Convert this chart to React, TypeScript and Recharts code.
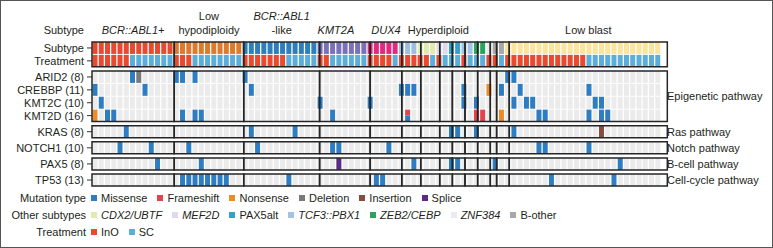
import React from "react";
import { BarChart, Bar, XAxis, YAxis, ReferenceArea } from "recharts";

// patient groups (columns) and their treatment arm (I = InO, S = SC)
const groupNames = [
  "BCR::ABL1+", "Low hypodiploidy", "BCR::ABL1-like", "KMT2A", "DUX4", "Hyperdiploid",
  "CDX2/UBTF", "MEF2D", "PAX5alt", "TCF3::PBX1", "ZEB2/CEBP", "ZNF384", "B-other", "Low blast",
];
const groupSizes = [13, 11, 12, 8, 5, 3, 3, 2, 2, 2, 2, 1, 2, 25];
const groupTreatment = [
  "IIIIIISSSSSSS", "IIISSSSSSSS", "IIIIIIISSSSS", "IISSSSSS", "IIIIS", "III",
  "IIS", "IS", "SS", "IS", "SS", "I", "IS", "IIIIIIIIIIIIISSSSSSSSSSSS",
];

const genes = ["ARID2", "CREBBP", "KMT2C", "KMT2D", "KRAS", "NOTCH1", "PAX5", "TP53"];
const geneCounts = [8, 11, 10, 16, 8, 10, 8, 13];

const arid2Hits: [number, string][] = [
  [6, "Missense"], [7, "Deletion"], [13, "Missense"], [14, "Missense"], [16, "Missense"],
  [24, "Missense"], [66, "Missense"], [67, "Missense"],
];
const crebbpHits: [number, string][] = [
  [0, "Missense"], [8, "Missense"], [25, "Missense"], [49, "Missense"], [50, "Missense"],
  [51, "Missense"], [59, "Missense"], [63, "Nonsense"], [65, "Missense"], [68, "Missense"], [79, "Missense"],
];
const kmt2cHits: [number, string][] = [
  [1, "Missense"], [36, "Missense"], [44, "Missense"], [59, "Missense"], [61, "Missense"],
  [67, "Missense"], [69, "Missense"], [70, "Missense"], [80, "Missense"], [81, "Missense"],
];
const kmt2dHits: [number, string][] = [
  [0, "Nonsense"], [2, "Missense"], [3, "Missense"], [14, "Missense"], [16, "Missense"], [17, "Missense"],
  [38, "Missense"], [50, "Frameshift+Missense"], [61, "Frameshift"], [62, "Frameshift"], [65, "Nonsense"],
  [71, "Missense"], [72, "Missense"], [79, "Missense"], [81, "Missense"], [82, "Missense"],
];
const krasHits: [number, string][] = [
  [5, "Missense"], [25, "Missense"], [32, "Missense"], [57, "Missense"], [58, "Missense"],
  [61, "Missense"], [67, "Missense"], [81, "Insertion"],
];
const notch1Hits: [number, string][] = [
  [4, "Missense"], [9, "Missense"], [15, "Missense"], [26, "Missense"], [38, "Missense"],
  [39, "Missense"], [47, "Missense"], [71, "Missense"], [72, "Missense"], [79, "Missense"],
];
const pax5Hits: [number, string][] = [
  [10, "Missense"], [17, "Missense"], [39, "Splice"], [51, "Missense"], [57, "Missense"],
  [58, "Missense"], [64, "Missense"], [84, "Missense"],
];
const tp53Hits: [number, string][] = [
  [14, "Missense"], [15, "Missense"], [16, "Missense"], [17, "Missense"], [18, "Missense"],
  [19, "Missense"], [20, "Missense"], [21, "Missense"], [31, "Missense"], [45, "Missense"],
  [46, "Missense"], [73, "Missense"], [83, "Missense"],
];
const geneHits = [arid2Hits, crebbpHits, kmt2cHits, kmt2dHits, krasHits, notch1Hits, pax5Hits, tp53Hits];

const pathways = ["Epigenetic pathway", "Ras pathway", "Notch pathway", "B-cell pathway", "Cell-cycle pathway"];
const mutationTypes = ["Missense", "Frameshift", "Nonsense", "Deletion", "Insertion", "Splice"];
const otherSubtypes = ["CDX2/UBTF", "MEF2D", "PAX5alt", "TCF3::PBX1", "ZEB2/CEBP", "ZNF384", "B-other"];
const treatments = ["InO", "SC"];

// colours
const subtypeColors: Record<string, string> = {
  "BCR::ABL1+": "#e8492f",
  "Low hypodiploidy": "#de7a2c",
  "BCR::ABL1-like": "#2c7fbc",
  KMT2A: "#7a72b6",
  DUX4: "#e2297f",
  Hyperdiploid: "#9fbde2",
  "CDX2/UBTF": "#e2eab0",
  MEF2D: "#dedaec",
  PAX5alt: "#36a0c8",
  "TCF3::PBX1": "#a4c2e3",
  "ZEB2/CEBP": "#2ca25a",
  ZNF384: "#eaeaf3",
  "B-other": "#a8a8a8",
  "Low blast": "#fde49b",
};
const mutationColors: Record<string, string> = {
  Missense: "#2e7dc2",
  Frameshift: "#e4434b",
  Nonsense: "#ef8a2a",
  Deletion: "#7a7a7a",
  Insertion: "#8a4a3e",
  Splice: "#5b2b82",
};
const treatmentColors: Record<string, string> = { InO: "#e8492f", SC: "#5badda" };
const italicSubtypes = ["CDX2/UBTF", "MEF2D", "TCF3::PBX1", "ZEB2/CEBP", "ZNF384"];
const EMPTY = "#ebebeb";
const TEXT = "#231f20";
const OUTLINE = "#262626";
const FONT = '"Liberation Sans", Arial, Helvetica, sans-serif';

// columns
const columns: { col: number; subtype: string; treatment: string }[] = [];
const groupStart: number[] = [];
groupNames.forEach((g, gi) => {
  groupStart.push(columns.length);
  for (let k = 0; k < groupSizes[gi]; k++) {
    columns.push({ col: columns.length, subtype: g, treatment: groupTreatment[gi][k] === "I" ? "InO" : "SC" });
  }
});
const N = columns.length;

const hitMap: Record<string, Record<number, string>> = {};
genes.forEach((g, i) => {
  hitMap[g] = {};
  geneHits[i].forEach(([c, t]) => (hitMap[g][c] = t));
});

// vertical layout of row bands (top to bottom)
const SMALL = 0.08;
const BIG = 0.35;
const bands: { key: string; h: number }[] = [
  { key: "Subtype", h: 1 }, { key: "gap0", h: SMALL }, { key: "Treatment", h: 1 }, { key: "gap1", h: BIG },
  { key: "ARID2", h: 1 }, { key: "gap2", h: SMALL }, { key: "CREBBP", h: 1 }, { key: "gap3", h: SMALL },
  { key: "KMT2C", h: 1 }, { key: "gap4", h: SMALL }, { key: "KMT2D", h: 1 }, { key: "gap5", h: BIG },
  { key: "KRAS", h: 1 }, { key: "gap6", h: BIG }, { key: "NOTCH1", h: 1 }, { key: "gap7", h: BIG },
  { key: "PAX5", h: 1 }, { key: "gap8", h: BIG }, { key: "TP53", h: 1 },
];
const TOTAL = bands.reduce((s, b) => s + b.h, 0);
const bandRange: Record<string, [number, number]> = {};
{
  let top = 0;
  bands.forEach((b) => {
    bandRange[b.key] = [TOTAL - top - b.h, TOTAL - top];
    top += b.h;
  });
}
const mid = (k: string) => (bandRange[k][0] + bandRange[k][1]) / 2;

const blocks = [["Subtype", "Treatment"], ["ARID2", "CREBBP", "KMT2C", "KMT2D"], ["KRAS"], ["NOTCH1"], ["PAX5"], ["TP53"]];

const leftLabels: [number, string][] = [
  [mid("Subtype"), "Subtype"],
  [mid("Treatment"), "Treatment"],
  ...genes.map((g, i) => [mid(g), `${g} (${geneCounts[i]})`] as [number, string]),
];
const rightLabels: [number, string][] = [
  [(bandRange["KMT2D"][0] + bandRange["ARID2"][1]) / 2, pathways[0]],
  [mid("KRAS"), pathways[1]],
  [mid("NOTCH1"), pathways[2]],
  [mid("PAX5"), pathways[3]],
  [mid("TP53"), pathways[4]],
];
const findLabel = (list: [number, string][], v: number) => {
  const f = list.find((l) => Math.abs(l[0] - v) < 1e-6);
  return f ? f[1] : "";
};

type Seg = { t: string; i?: boolean };
const headers: { group: number; lines: Seg[][]; anchor?: "start" | "middle"; dx?: number }[] = [
  { group: 0, lines: [[{ t: "BCR::ABL1+", i: true }]] },
  { group: 1, lines: [[{ t: "Low" }], [{ t: "hypodiploidy" }]] },
  { group: 2, lines: [[{ t: "BCR::ABL1", i: true }], [{ t: "-like" }]] },
  { group: 3, lines: [[{ t: "KMT2A", i: true }]], anchor: "start", dx: -2 },
  { group: 4, lines: [[{ t: "DUX4", i: true }]] },
  { group: 5, lines: [[{ t: "Hyperdiploid" }]], anchor: "start", dx: 6 },
  { group: 13, lines: [[{ t: "Low blast" }]] },
];
const headerPos = (h: (typeof headers)[number]) =>
  h.anchor === "start" ? groupStart[h.group] : groupStart[h.group] + groupSizes[h.group] / 2;
const headerTicks = headers.map(headerPos);

const data = columns.map((c) => {
  const row: Record<string, any> = { ...c };
  bands.forEach((b) => (row[b.key] = b.h));
  return row;
});

function HeaderTick(props: any) {
  const { x, y, payload } = props;
  const h = headers.find((hh) => Math.abs(headerPos(hh) - payload.value) < 1e-6);
  if (!h) return <g />;
  const L = h.lines.length;
  return (
    <g>
      {h.lines.map((line, j) => (
        <text
          key={j}
          x={x + (h.dx || 0)}
          y={y - 8 - (L - 1 - j) * 14}
          textAnchor={h.anchor === "start" ? "start" : "middle"}
          fontSize={11}
          fill={TEXT}
        >
          {line.map((s, k) => (
            <tspan key={k} fontStyle={s.i ? "italic" : "normal"}>
              {s.t}
            </tspan>
          ))}
        </text>
      ))}
    </g>
  );
}

// plain single-line tick text (no wrapping)
function RowTick(props: any) {
  const { x, y, payload, textAnchor, list } = props;
  return (
    <text x={x} y={y} dy="0.36em" textAnchor={textAnchor} fontSize={11} fill={TEXT}>
      {findLabel(list, payload.value)}
    </text>
  );
}

function renderCell(key: string, p: any) {
  const { x, y, width, height, payload } = p;
  if (key.startsWith("gap")) return <g />;
  if (key === "Subtype") return <rect x={x} y={y} width={width} height={height} fill={subtypeColors[payload.subtype]} />;
  if (key === "Treatment") return <rect x={x} y={y} width={width} height={height} fill={treatmentColors[payload.treatment]} />;
  const hit = hitMap[key][payload.col];
  if (!hit) return <rect x={x} y={y} width={width} height={height} fill={EMPTY} />;
  const parts = hit.split("+");
  if (parts.length === 1) return <rect x={x} y={y} width={width} height={height} fill={mutationColors[hit]} />;
  const hh = height / parts.length;
  return (
    <g>
      {parts.map((t, i) => (
        <rect key={i} x={x} y={y + i * hh} width={width} height={hh} fill={mutationColors[t]} />
      ))}
    </g>
  );
}

function axes(withLabels: boolean) {
  return [
    <XAxis key="xc" xAxisId="cat" dataKey="col" type="category" hide />,
    <XAxis
      key="xn"
      xAxisId="num"
      type="number"
      orientation="top"
      domain={[0, N]}
      allowDataOverflow
      height={42}
      ticks={headerTicks}
      interval={0}
      axisLine={false}
      tickLine={false}
      tickSize={0}
      tickMargin={0}
      tick={withLabels ? (p: any) => <HeaderTick {...p} /> : false}
    />,
    <YAxis
      key="yl"
      yAxisId="left"
      type="number"
      domain={[0, TOTAL]}
      allowDataOverflow
      width={92}
      ticks={leftLabels.map((l) => l[0])}
      interval={0}
      axisLine={false}
      tickLine={withLabels ? { stroke: "#333" } : false}
      tickSize={5}
      tickMargin={3}
      tick={withLabels ? (p: any) => <RowTick {...p} list={leftLabels} /> : false}
    />,
    <YAxis
      key="yr"
      yAxisId="right"
      orientation="right"
      type="number"
      domain={[0, TOTAL]}
      allowDataOverflow
      width={112}
      ticks={rightLabels.map((l) => l[0])}
      interval={0}
      axisLine={false}
      tickLine={false}
      tickSize={0}
      tickMargin={6}
      tick={withLabels ? (p: any) => <RowTick {...p} list={rightLabels} /> : false}
    />,
  ];
}

function Key({ color, label, italic }: { color: string; label: string; italic?: boolean }) {
  return (
    <span style={{ display: "inline-flex", alignItems: "center", marginRight: 10 }}>
      <span style={{ width: 6, height: 6, background: color, marginRight: 4, display: "inline-block" }} />
      <span style={{ fontStyle: italic ? "italic" : "normal" }}>{label}</span>
    </span>
  );
}

function LegendRow({ title, children }: { title: string; children: React.ReactNode }) {
  return (
    <div style={{ display: "flex", alignItems: "center", height: 17, whiteSpace: "nowrap" }}>
      <span style={{ width: 86, textAlign: "right", marginRight: 5 }}>{title}</span>
      {children}
    </div>
  );
}

const CHART_W = 773;
const CHART_H = 190;
const MARGIN = { top: 0, right: 0, bottom: 4, left: 0 };

export default function App() {
  return (
    <div
      style={{
        position: "absolute",
        left: 0,
        top: 0,
        width: 773,
        height: 248,
        background: "#fff",
        fontFamily: FONT,
        fontSize: 11,
        color: TEXT,
        overflow: "hidden",
      }}
    >
      <div style={{ position: "absolute", left: 0, top: 23, width: 84, textAlign: "right", lineHeight: "14px" }}>
        Subtype
      </div>
      {/* cells */}
      <div style={{ position: "absolute", left: 0, top: 0 }}>
        <BarChart width={CHART_W} height={CHART_H} data={data} margin={MARGIN} barCategoryGap={0.5}>
          {axes(true)}
          {[...bands].reverse().map((b) => (
            <Bar
              key={b.key}
              dataKey={b.key}
              stackId="s"
              xAxisId="cat"
              yAxisId="left"
              isAnimationActive={false}
              shape={(p: any) => renderCell(b.key, p)}
            />
          ))}
        </BarChart>
      </div>
      {/* group outlines drawn on top of the cells */}
      <div style={{ position: "absolute", left: 0, top: 0 }}>
        <BarChart width={CHART_W} height={CHART_H} data={data} margin={MARGIN}>
          {axes(false)}
          {blocks.flatMap((bl, bi) =>
            groupNames.map((g, gi) => (
              <ReferenceArea
                key={`${bi}-${gi}`}
                xAxisId="num"
                yAxisId="left"
                x1={groupStart[gi]}
                x2={groupStart[gi] + groupSizes[gi]}
                y1={bandRange[bl[bl.length - 1]][0]}
                y2={bandRange[bl[0]][1]}
                fill="none"
                stroke={OUTLINE}
                strokeWidth={1.5}
                ifOverflow="visible"
              />
            ))
          )}
        </BarChart>
      </div>
      <div style={{ position: "absolute", left: 0, top: 189 }}>
        <LegendRow title="Mutation type">
          {mutationTypes.map((m) => (
            <Key key={m} color={mutationColors[m]} label={m} />
          ))}
        </LegendRow>
        <LegendRow title="Other subtypes">
          {otherSubtypes.map((s) => (
            <Key key={s} color={subtypeColors[s]} label={s} italic={italicSubtypes.includes(s)} />
          ))}
        </LegendRow>
        <LegendRow title="Treatment">
          {treatments.map((t) => (
            <Key key={t} color={treatmentColors[t]} label={t} />
          ))}
        </LegendRow>
      </div>
      <div
        style={{
          position: "absolute",
          left: 0,
          top: 0,
          width: 773,
          height: 248,
          boxSizing: "border-box",
          border: "1px solid #555",
          pointerEvents: "none",
        }}
      />
    </div>
  );
}
